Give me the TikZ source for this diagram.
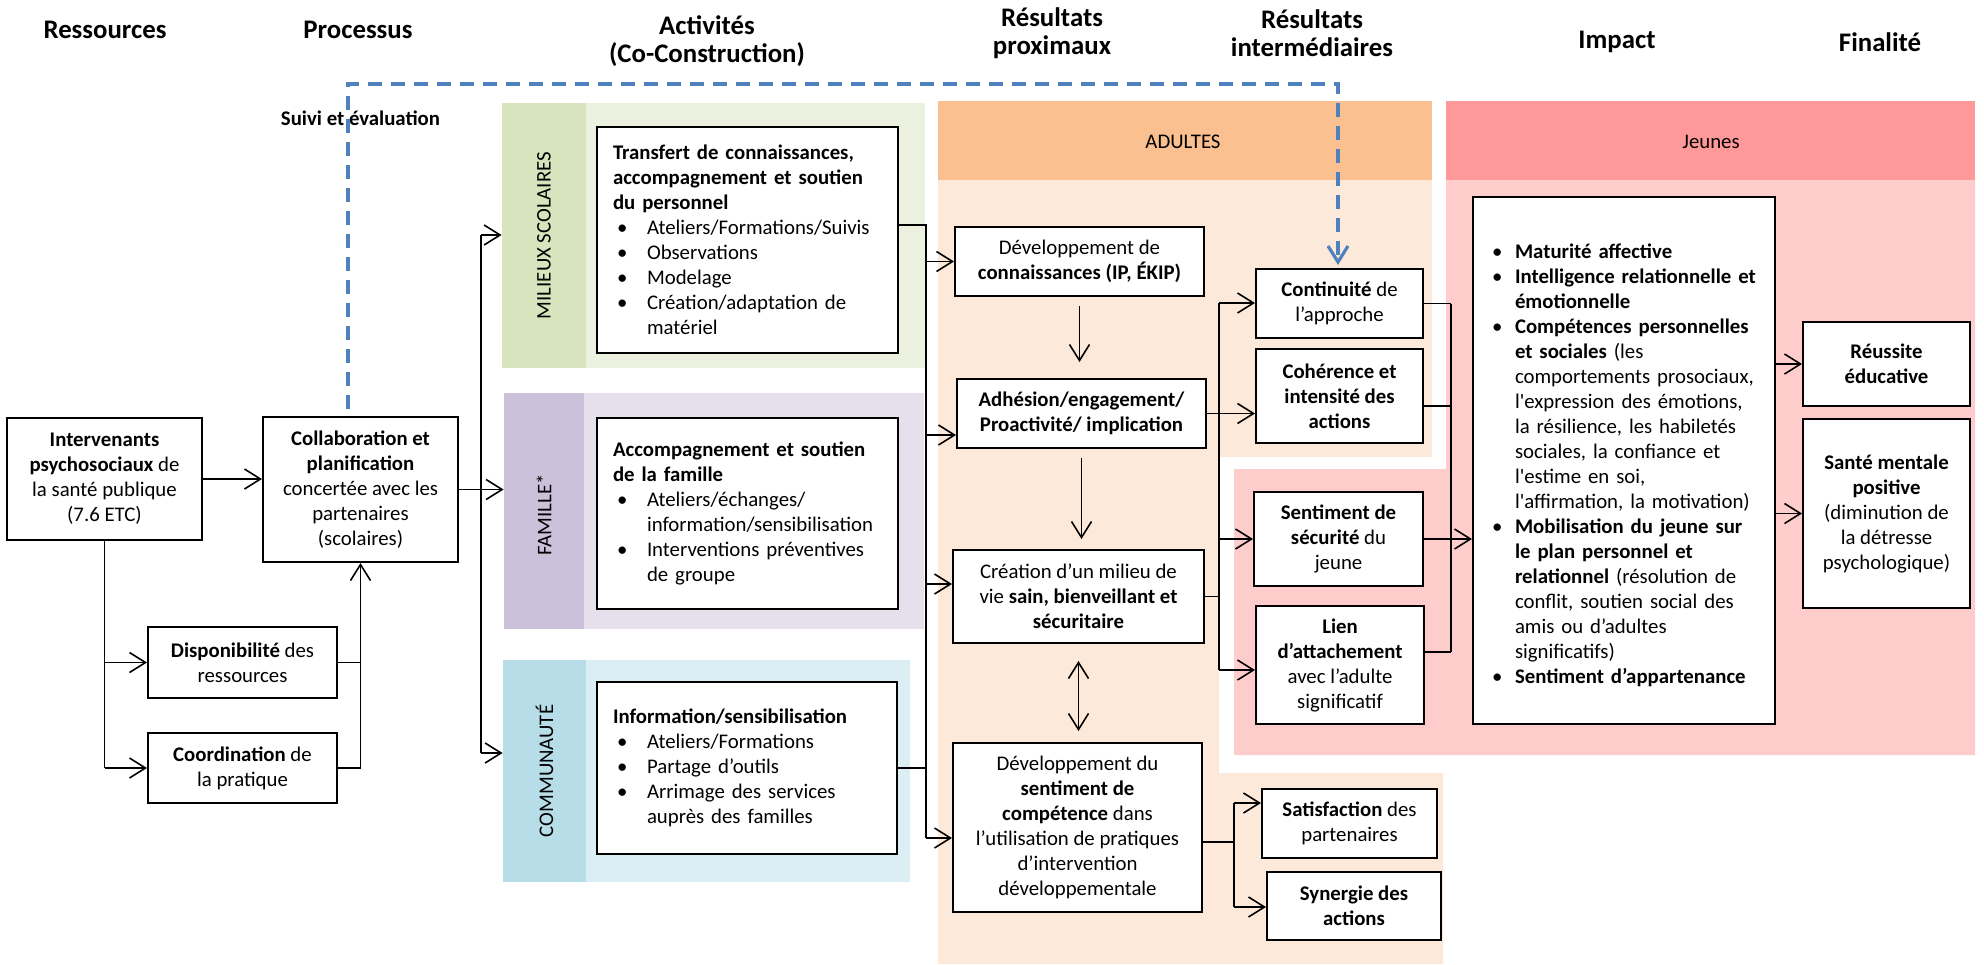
\documentclass[tikz,border=0pt]{standalone}
\usepackage{fontspec}
\setmainfont{Carlito}[Ligatures=TeXOff]
\usetikzlibrary{arrows.meta}

\definecolor{GreenD}{HTML}{D7E4BD}
\definecolor{GreenL}{HTML}{EBF1DE}
\definecolor{PurpD}{HTML}{CCC1DA}
\definecolor{PurpL}{HTML}{E6E0EC}
\definecolor{BlueD}{HTML}{B7DEE8}
\definecolor{BlueL}{HTML}{DBEEF4}
\definecolor{OrD}{HTML}{FAC090}
\definecolor{OrL}{HTML}{FDE9D9}
\definecolor{PkD}{HTML}{FF9999}
\definecolor{PkL}{HTML}{FFCCCC}
\definecolor{DashBlue}{HTML}{4F81BD}

\newcommand\txtfont{\fontsize{10.4}{12.5}\selectfont}
\newcommand\headfont{\fontsize{13.4}{14}\selectfont\bfseries}
% bullet item; \nl breaks a line inside an item and indents the new line
\newlength\bulind
\newcommand\bul[2][17pt]{\par\noindent\setlength\bulind{#1}%
  \makebox[\bulind][l]{\hspace{2pt}\textbullet}#2}
\newcommand\nl{\\\hspace*{\bulind}}

\begin{document}
\begin{tikzpicture}[x=0.5pt,y=-0.5pt,
  box/.style={draw=black, line width=1pt, fill=white, inner sep=0pt, align=center, font=\txtfont, text=black},
  lbox/.style={box, align=left, inner ysep=0pt},
  con/.style={draw=black, line width=0.8pt},
  arr/.style={con, -{Straight Barb[length=8pt,width=10pt]}},
  dashline/.style={draw=DashBlue, line width=1.6pt, dash pattern=on 7pt off 4.5pt},
  head/.style={font=\headfont, align=center, inner sep=0pt},
  band/.style={inner sep=0pt, draw=none},
  vlabel/.style={rotate=90, font=\txtfont, inner sep=0pt},
]
\useasboundingbox (0,0) rectangle (1984,964);

% ---------- column headings ----------
\node[head] (hres) at (105,30) {Ressources};
\node[head] (hpro) at (358,30) {Processus};
\node[head] (hact) at (707,41) {Activités\\(Co-Construction)};
\node[head] (hprox) at (1052,33.5) {Résultats\\proximaux};
\node[head] (hint) at (1312,33.5) {Résultats\\intermédiaires};
\node[head] (himp) at (1617,42) {Impact};
\node[head] (hfin) at (1880,42) {Finalité};

% ---------- activity bands ----------
\fill[GreenL] (586,103) rectangle (925,368);
\node[band, fill=GreenD, minimum width=42pt, minimum height=132.5pt] (millab) at (544,235.5) {};
\node[vlabel] at (millab) {MILIEUX SCOLAIRES};

\fill[PurpL] (584,393) rectangle (924,629);
\node[band, fill=PurpD, minimum width=40pt, minimum height=118pt] (famlab) at (544,511) {};
\node[vlabel] at (544,515) {FAMILLE*};

\fill[BlueL] (586,660) rectangle (910,882);
\node[band, fill=BlueD, minimum width=41.5pt, minimum height=111pt] (comlab) at (544.5,771) {};
\node[vlabel] at (comlab) {COMMUNAUTÉ};

% ---------- outcome areas ----------
\fill[OrD] (938,101) rectangle (1432,180);
\node[font=\txtfont, inner sep=0pt] (adultes) at (1183,142) {ADULTES};
\fill[OrL] (938,180) -- (1432,180) -- (1432,457) -- (1219,457) -- (1219,773)
  -- (1443,773) -- (1443,964) -- (938,964) -- cycle;

\fill[PkD] (1446,101) rectangle (1975,180);
\node[font=\txtfont, inner sep=0pt] (jeunes) at (1711,142) {Jeunes};
\fill[PkL] (1446,180) -- (1975,180) -- (1975,755) -- (1234,755) -- (1234,469)
  -- (1446,469) -- cycle;

% ---------- resources and process ----------
\node[box, minimum width=97.5pt, minimum height=61pt] (interv) at (104.5,479)
  {\textbf{Intervenants}\\\textbf{psychosociaux} de\\la santé publique\\(7.6 ETC)};
\node[box, minimum width=97.5pt, minimum height=72.5pt] (collab) at (360.5,489.5)
  {\textbf{Collaboration et}\\\textbf{planification}\\concertée avec les\\partenaires\\(scolaires)};
\node[box, minimum width=94.5pt, minimum height=35.5pt] (dispo) at (242.5,662.5)
  {\textbf{Disponibilité} des\\ressources};
\node[box, minimum width=94.5pt, minimum height=35pt] (coord) at (242.5,768)
  {\textbf{Coordination} de\\la pratique};

\node[font=\txtfont\bfseries, inner sep=0pt] (suivi) at (360.5,118) {Suivi et évaluation};

% ---------- activities ----------
\node[lbox, text width=134.5pt, inner xsep=8pt, minimum height=113pt] (transfert) at (747.5,240)
  {\noindent\textbf{Transfert de connaissances,}\\\textbf{accompagnement et soutien}\\\textbf{du personnel}
   \bul{Ateliers/Formations/Suivis}\bul{Observations}\bul{Modelage}
   \bul{Création/adaptation de\nl matériel}};
\node[lbox, text width=134.5pt, inner xsep=8pt, minimum height=95.5pt] (accomp) at (747.5,513.5)
  {\noindent\textbf{Accompagnement et soutien}\\\textbf{de la famille}
   \bul{Ateliers/échanges/\nl information/sensibilisation}
   \bul{Interventions préventives\nl de groupe}};
\node[lbox, text width=134pt, inner xsep=8pt, minimum height=86pt] (info) at (747,768)
  {\noindent\textbf{Information/sensibilisation}
   \bul{Ateliers/Formations}\bul{Partage d’outils}
   \bul{Arrimage des services\nl auprès des familles}};

% ---------- proximal outcomes ----------
\node[box, minimum width=124.5pt, minimum height=34.5pt] (dc) at (1079.5,261.5)
  {Développement de\\\textbf{connaissances (IP, ÉKIP)}};
\node[box, minimum width=124.5pt, minimum height=34.5pt] (adh) at (1081.5,413.5)
  {\textbf{Adhésion/engagement/}\\\textbf{Proactivité/ implication}};
\node[box, minimum width=125.5pt, minimum height=46.5pt] (cre) at (1078.5,596.5)
  {Création d’un milieu de\\vie \textbf{sain, bienveillant et}\\\textbf{sécuritaire}};
\node[box, minimum width=124.5pt, minimum height=84.5pt] (ds) at (1077.5,827.5)
  {Développement du\\\textbf{sentiment de}\\\textbf{compétence} dans\\l’utilisation de pratiques\\d’intervention\\développementale};

% ---------- intermediate outcomes ----------
\node[box, minimum width=83.5pt, minimum height=34.5pt] (cont) at (1339.5,303.5)
  {\textbf{Continuité} de\\l’approche};
\node[box, minimum width=83.5pt, minimum height=47pt] (coh) at (1339.5,396)
  {\textbf{Cohérence et}\\\textbf{intensité des}\\\textbf{actions}};
\node[box, minimum width=84.5pt, minimum height=47pt] (sent) at (1338.5,539)
  {\textbf{Sentiment de}\\\textbf{sécurité} du\\jeune};
\node[box, minimum width=84pt, minimum height=59pt] (lien) at (1340,665)
  {\textbf{Lien}\\\textbf{d’attachement}\\avec l’adulte\\significatif};
\node[box, minimum width=87.5pt, minimum height=34.5pt] (sat) at (1349.5,823.5)
  {\textbf{Satisfaction} des\\partenaires};
\node[box, minimum width=87pt, minimum height=34pt] (syn) at (1354,906)
  {\textbf{Synergie des}\\\textbf{actions}};

% ---------- impact and goals ----------
\node[lbox, text width=136pt, inner xsep=7.5pt, minimum height=263.5pt] (impact) at (1624,460.5)
  {\bul[13.5pt]{\textbf{Maturité affective}}
   \bul[13.5pt]{\textbf{Intelligence relationnelle et}\nl\textbf{émotionnelle}}
   \bul[13.5pt]{\textbf{Compétences personnelles}\nl\textbf{et sociales} (les\nl comportements prosociaux,\nl l'expression des émotions,\nl la résilience, les habiletés\nl sociales, la confiance et\nl l'estime en soi,\nl l'affirmation, la motivation)}
   \bul[13.5pt]{\textbf{Mobilisation du jeune sur}\nl\textbf{le plan personnel et}\nl\textbf{relationnel} (résolution de\nl conflit, soutien social des\nl amis ou d’adultes\nl significatifs)}
   \bul[13.5pt]{\textbf{Sentiment d’appartenance}}};
\node[box, minimum width=83.5pt, minimum height=42pt] (reu) at (1886.5,364)
  {\textbf{Réussite}\\\textbf{éducative}};
\node[box, minimum width=83.5pt, minimum height=94.5pt] (san) at (1886.5,513.5)
  {\textbf{Santé mentale}\\\textbf{positive}\\(diminution de\\la détresse\\psychologique)};

% ---------- connectors: resources to process ----------
\draw[arr] (interv.east) -- (interv.east -| collab.west);
\draw[con] (interv.south) -- (interv.south |- coord.west);
\draw[arr] (interv.south |- coord.west) -- (coord.west);
\draw[arr] (interv.south |- dispo.west) -- (dispo.west);
\draw[con] (dispo.east) -- (dispo.east -| collab.south);
\draw[arr] (coord.east) -| (collab.south);

% ---------- process to activity settings ----------
\coordinate (ta) at (481,235);
\coordinate (tb) at (481,753);
\draw[con] (ta) -- (tb);
\draw[arr] (ta) -- (ta -| millab.west);
\draw[arr] (collab.east) -- (collab.east -| famlab.west);
\draw[arr] (tb) -- (tb -| comlab.west);

% ---------- activities to proximal outcomes ----------
\coordinate (ra) at (926,225);
\coordinate (rb) at (926,838);
\coordinate (r2) at (926,435);
\coordinate (r3) at (926,584);
\draw[con] (transfert.east |- ra) -- (ra) -- (rb);
\draw[con] (info.east) -- (info.east -| ra);
\draw[arr] (ra |- dc.west) -- (dc.west);
\draw[arr] (r2) -- (r2 -| adh.west);
\draw[arr] (r3) -- (r3 -| cre.west);
\draw[arr] (rb) -- (rb -| ds.west);

% ---------- among proximal outcomes ----------
\draw[arr, shorten <=4.5pt, shorten >=8pt] (dc.south) -- (dc.south |- adh.north);
\draw[arr, shorten <=4.5pt, shorten >=5pt] (adh.south) -- (adh.south |- cre.north);
\draw[con, {Straight Barb[length=8pt,width=10pt]}-{Straight Barb[length=8pt,width=10pt]},
  shorten <=8.5pt, shorten >=5.5pt] (cre.south) -- (cre.south |- ds.north);

% ---------- proximal to intermediate outcomes ----------
\coordinate (b1) at (1219,303);
\coordinate (b2) at (1219,670);
\draw[con] (cre.east) -- (cre.east -| b1);
\draw[con] (b1) -- (b2);
\draw[arr] (b1) -- (b1 -| cont.west);
\draw[arr] (b1 |- sent.west) -- (sent.west);
\draw[arr] (b2) -- (b2 -| lien.west);
\draw[arr] (adh.east) -- (adh.east -| coh.west);

\coordinate (s0) at (1234,842);
\coordinate (s1) at (1234,803);
\coordinate (s2) at (1234,907);
\draw[con] (ds.east |- s0) -- (s0);
\draw[con] (s1) -- (s2);
\draw[arr] (s1) -- (s1 -| sat.west);
\draw[arr] (s2) -- (s2 -| syn.west);

% ---------- intermediate outcomes to impact ----------
\coordinate (i1) at (1451,304);
\coordinate (i2) at (1451,652);
\coordinate (i3) at (1451,406);
\draw[con] (cont.east) -- (cont.east -| i1);
\draw[con] (i3 -| coh.east) -- (i3);
\draw[con] (i2 -| lien.east) -- (i2);
\draw[con] (i1) -- (i2);
\draw[arr] (sent.east) -- (sent.east -| impact.west);

% ---------- impact to goals ----------
\draw[arr] (impact.east |- reu.west) -- (reu.west);
\draw[arr] (impact.east |- san.west) -- (san.west);

% ---------- monitoring loop ----------
\coordinate (d1) at (348,84);
\coordinate (d2) at (1338,84);
\draw[dashline, -{Straight Barb[length=8pt,width=10pt]}, shorten <=3.5pt, shorten >=1.5pt]
  (collab.north -| d1) -- (d1) -- (d2) -- (d2 |- cont.north);
\end{tikzpicture}
\end{document}
